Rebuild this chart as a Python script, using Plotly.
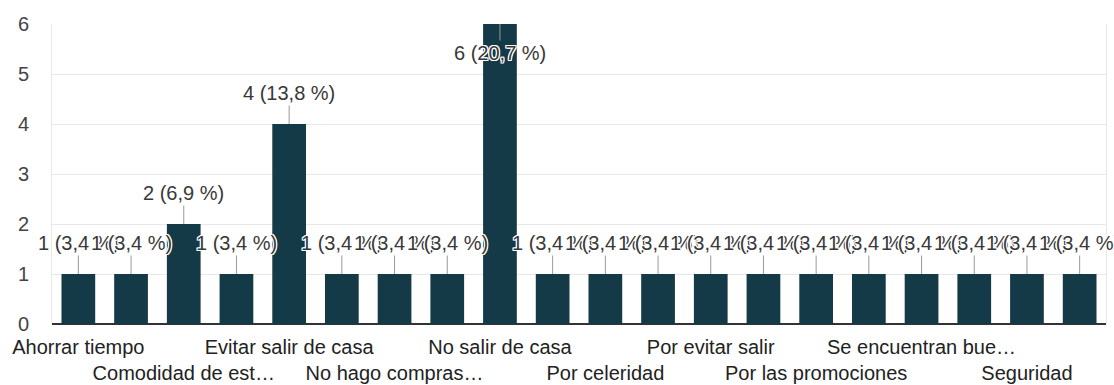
import plotly.graph_objects as go

# Respuestas por motivo (20 categorías; solo se rotulan las alternas en el eje)
etiquetas = [
    "Ahorrar tiempo", "", "Comodidad de est…", "", "Evitar salir de casa", "",
    "No hago compras…", "", "No salir de casa", "", "Por celeridad", "",
    "Por evitar salir", "", "Por las promociones", "", "Se encuentran bue…", "",
    "Seguridad", "",
]
respuestas = [1, 1, 2, 1, 4, 1, 1, 1, 6, 1, 1, 1, 1, 1, 1, 1, 1, 1, 1, 1]
y_ticks = [0, 1, 2, 3, 4, 5, 6]

total = sum(respuestas)
posiciones = list(range(len(respuestas)))

BAR = "#133a46"
TXT = "#383838"
FONT = "Liberation Sans, Arial, sans-serif"
HALO = "1px 1px 0 #fff, -1px -1px 0 #fff, 1px -1px 0 #fff, -1px 1px 0 #fff, 0 1px 0 #fff, 0 -1px 0 #fff, 1px 0 0 #fff, -1px 0 0 #fff"

fig = go.Figure(
    go.Bar(
        x=posiciones,
        y=respuestas,
        marker=dict(color=BAR, line=dict(width=0)),
        hoverinfo="skip",
    )
)

# Etiquetas de valor con su tallo, al estilo de las anotaciones de Google Charts
ymax = max(y_ticks)
for i, v in enumerate(respuestas):
    pct = f"{100 * v / total:.1f}".replace(".", ",")
    dentro = v >= ymax
    fig.add_annotation(
        x=i, y=v, xref="x", yref="y",
        text=f"{v} ({pct} %)",
        showarrow=True, arrowhead=0, arrowwidth=1, arrowcolor="#999999",
        ax=0, ay=29 if dentro else -31,
        font=dict(family=FONT, size=20, color=TXT, shadow=HALO),
    )

# Rótulos del eje x escalonados en dos filas
visibles = [i for i, t in enumerate(etiquetas) if t]
textos = []
for k, i in enumerate(visibles):
    textos.append(etiquetas[i] if k % 2 == 0 else "&nbsp;<br>" + etiquetas[i])

fig.update_layout(
    width=1114, height=385,
    margin=dict(l=52, r=8, t=24, b=61),
    paper_bgcolor="white", plot_bgcolor="white",
    bargap=0.36,
    showlegend=False,
    font=dict(family=FONT, size=20, color=TXT),
    xaxis=dict(
        range=[-0.5, len(respuestas) - 0.5],
        tickmode="array", tickvals=visibles, ticktext=textos,
        tickangle=0, automargin=False, ticklabelstandoff=9,
        showgrid=False, zeroline=False, showline=False,
        ticks="", tickfont=dict(size=20, color="#222222"),
        fixedrange=True,
    ),
    yaxis=dict(
        range=[0, ymax], automargin=False,
        tickmode="array", tickvals=y_ticks,
        showgrid=True, gridcolor="#e8e8e8", gridwidth=1,
        zeroline=True, zerolinecolor="#333333", zerolinewidth=2,
        showline=True, linecolor="#e8e8e8", linewidth=1, mirror=True,
        ticks="", ticklabelstandoff=18,
        tickfont=dict(size=20, color="#444444"),
        fixedrange=True,
    ),
)

fig.write_html("out.html")
